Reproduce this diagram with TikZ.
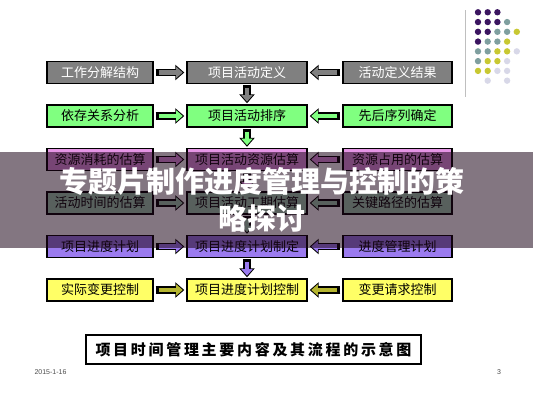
\documentclass[tikz,border=0pt]{standalone}
\usepackage{fontspec}
\setmainfont{Liberation Sans}
\newfontfamily\cjk{Noto Sans CJK SC}
\usetikzlibrary{arrows.meta}
\definecolor{rowgray}{HTML}{808080}
\definecolor{rowgreen}{HTML}{80FF80}
\definecolor{rowpink}{HTML}{E595E5}
\definecolor{rowteal}{HTML}{A0D0B0}
\definecolor{rowpurple}{HTML}{9B7BEF}
\definecolor{rowyellow}{HTML}{FFFF66}
\definecolor{rowolive}{HTML}{B5B530}
\definecolor{dotdark}{HTML}{3B1560}
\definecolor{dotteal}{HTML}{7F9F9F}
\definecolor{dotyellow}{HTML}{C8C832}
\definecolor{dotlight}{HTML}{D8D8E8}
\definecolor{bannerc}{RGB}{30,5,25}
\tikzset{
  box/.style={draw=black, line width=1.4pt, minimum height=22, inner sep=0pt,
    font=\cjk\fontsize{13}{15}\selectfont},
  leftbox/.style={box, minimum width=106},
  midbox/.style={box, minimum width=120},
  rightbox/.style={box, minimum width=109},
  fatarrow/.style={line width=7.5pt, draw=black, -{Triangle[length=9pt,width=15pt]}},
  fatfill/.style={line width=4.5pt, draw=#1, shorten <=3pt, shorten >=1.6pt,
    -{Triangle[length=6.5pt,width=11pt,fill=#1]}},
}
\begin{document}
\begin{tikzpicture}[x=1pt,y=-1pt]
\useasboundingbox (0,0) rectangle (533,400);
% corner decoration
\draw[black!25, line width=0.8pt] (465,10) -- (465,97);
\foreach \c/\r/\col in {1/1/dotdark, 2/1/dotdark, 3/1/dotdark,
    1/2/dotdark, 2/2/dotdark, 3/2/dotdark, 4/2/dotteal,
    1/3/dotdark, 2/3/dotdark, 3/3/dotteal, 4/3/dotteal, 5/3/dotyellow,
    1/4/dotdark, 2/4/dotteal, 3/4/dotteal, 4/4/dotyellow,
    1/5/dotteal, 2/5/dotteal, 3/5/dotyellow, 4/5/dotyellow, 5/5/dotlight,
    1/6/dotteal, 2/6/dotyellow, 3/6/dotyellow, 4/6/dotlight,
    1/7/dotyellow, 2/7/dotyellow, 3/7/dotlight, 4/7/dotlight,
    2/8/dotlight, 4/8/dotlight}
  \fill[\col] ({468.3+9.7*\c},{2.5+9.77*\r}) circle (3.2);
% rows of the flow
\node[leftbox, fill=rowgray, text=white] (l1) at (100,72.5) {工作分解结构};
\node[midbox, fill=rowgray, text=white] (m1) at (247,72.5) {项目活动定义};
\node[rightbox, fill=rowgray, text=white] (r1) at (397.5,72.5) {活动定义结果};
\node[leftbox, fill=rowgreen] (l2) at (100,116) {依存关系分析};
\node[midbox, fill=rowgreen] (m2) at (247,116) {项目活动排序};
\node[rightbox, fill=rowgreen] (r2) at (397.5,116) {先后序列确定};
\node[leftbox, fill=rowpink] (l3) at (100,159.5) {资源消耗的估算};
\node[midbox, fill=rowpink] (m3) at (247,159.5) {项目活动资源估算};
\node[rightbox, fill=rowpink] (r3) at (397.5,159.5) {资源占用的估算};
\node[leftbox, fill=rowteal] (l4) at (100,203) {活动时间的估算};
\node[midbox, fill=rowteal] (m4) at (247,203) {项目活动工期估算};
\node[rightbox, fill=rowteal] (r4) at (397.5,203) {关键路径的估算};
\node[leftbox, fill=rowpurple] (l5) at (100,246.5) {项目进度计划};
\node[midbox, fill=rowpurple] (m5) at (247,246.5) {项目进度计划制定};
\node[rightbox, fill=rowpurple] (r5) at (397.5,246.5) {进度管理计划};
\node[leftbox, fill=rowyellow] (l6) at (100,290) {实际变更控制};
\node[midbox, fill=rowyellow] (m6) at (247,290) {项目进度计划控制};
\node[rightbox, fill=rowyellow] (r6) at (397.5,290) {变更请求控制};
% block arrows
\foreach \i/\c in {1/rowgray, 2/rowgreen, 3/rowpink, 4/rowteal, 5/rowpurple, 6/rowolive} {
  \draw[fatarrow] ([xshift=2]l\i.east) -- ([xshift=-2]m\i.west);
  \draw[fatfill=\c] ([xshift=2]l\i.east) -- ([xshift=-2]m\i.west);
  \draw[fatarrow] ([xshift=-2]r\i.west) -- ([xshift=2]m\i.east);
  \draw[fatfill=\c] ([xshift=-2]r\i.west) -- ([xshift=2]m\i.east);
}
\foreach \i/\j/\c in {1/2/rowgray, 2/3/rowgreen, 3/4/rowpink, 4/5/rowteal, 5/6/rowpurple} {
  \draw[fatarrow] ([yshift=-1]m\i.south) -- ([yshift=1]m\j.north);
  \draw[fatfill=\c] ([yshift=-1]m\i.south) -- ([yshift=1]m\j.north);
}
% caption
\node[draw=black, line width=1.4pt, minimum width=335, minimum height=29, inner sep=0pt,
  font=\cjk\bfseries\fontsize{15}{17}\selectfont\addfontfeature{LetterSpace=18}] (cap) at (253.5,349.5)
  {项目时间管理主要内容及其流程的示意图};
\node[font=\fontsize{7}{8}\selectfont, text=black!70, anchor=west] (date) at (31,372) {2015-1-16};
\node[font=\fontsize{7}{8}\selectfont, text=black!70] (page) at (499,372) {3};
% title banner
\fill[bannerc, opacity=0.55] (0,152) rectangle (533,248);
\node[align=center, text=white, font=\cjk\bfseries\fontsize{29}{37}\selectfont]
  (title) at (262,200) {专题片制作进度管理与控制的策\\略探讨};
\end{tikzpicture}
\end{document}
